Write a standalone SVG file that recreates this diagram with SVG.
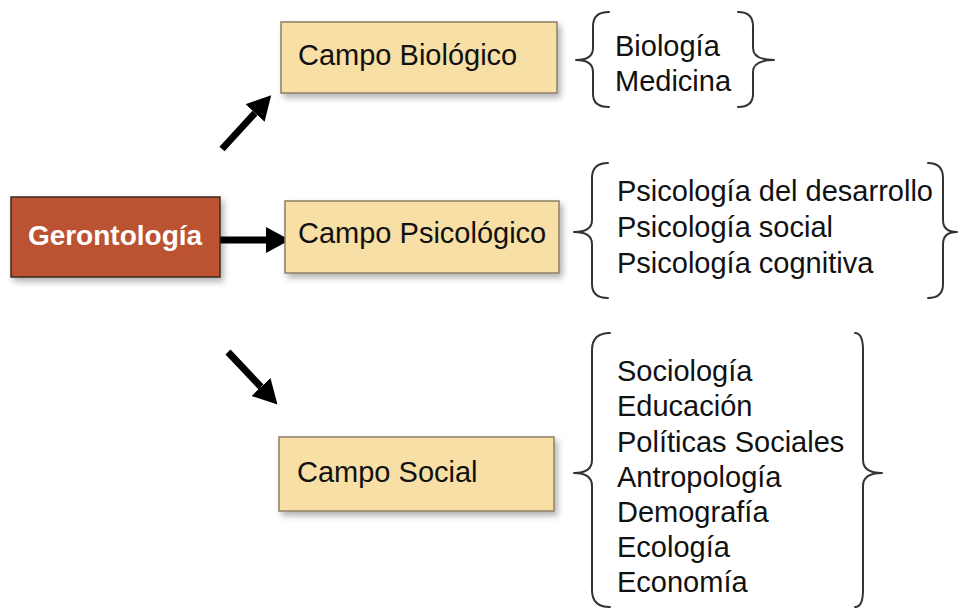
<svg xmlns="http://www.w3.org/2000/svg" width="959" height="610" viewBox="0 0 959 610">
  <defs>
    <style>
      .campo { fill: #f7dfa6; stroke: #8c7f66; stroke-width: 1.5; }
      .geron { fill: #bb5331; stroke: #3a2a22; stroke-width: 1.5; }
      .lbl { font-family: "Liberation Sans", Arial, sans-serif; font-size: 29px; fill: #111; }
      .glbl { font-family: "Liberation Sans", Arial, sans-serif; font-size: 28px; font-weight: bold; fill: #fff; }
      .brace { fill: none; stroke: #333; stroke-width: 2; stroke-linecap: round; stroke-linejoin: round; }
      .arrow { stroke: #000; stroke-width: 7; fill: none; }
    </style>
    <filter id="shadow" x="-10%" y="-20%" width="130%" height="150%">
      <feDropShadow dx="3" dy="4" stdDeviation="3" flood-color="#000" flood-opacity="0.3"/>
    </filter>
    <marker id="head" markerUnits="userSpaceOnUse" viewBox="0 -14 25 28" refX="0" refY="0" markerWidth="25" markerHeight="28" orient="auto">
      <path d="M0,-13 L24,0 L0,13 z" fill="#000"/>
    </marker>
  </defs>

  <g id="connectors">
    <line class="arrow" x1="220" y1="240" x2="266" y2="240" marker-end="url(#head)"/>
    <line class="arrow" x1="222" y1="149" x2="255" y2="113" marker-end="url(#head)"/>
    <line class="arrow" x1="228" y1="352" x2="261" y2="387" marker-end="url(#head)"/>
  </g>

  <g id="gerontologia">
    <rect class="geron" x="11" y="197" width="209" height="80" filter="url(#shadow)"/>
    <text class="glbl" x="115" y="245" text-anchor="middle">Gerontología</text>
  </g>

  <g id="campo-biologico">
    <rect class="campo" x="281" y="22" width="276" height="71" filter="url(#shadow)"/>
    <text class="lbl" x="298" y="65">Campo Biológico</text>
  </g>

  <g id="campo-psicologico">
    <rect class="campo" x="285" y="201" width="274" height="72" filter="url(#shadow)"/>
    <text class="lbl" x="298" y="243">Campo Psicológico</text>
  </g>

  <g id="campo-social">
    <rect class="campo" x="279" y="437" width="275" height="74" filter="url(#shadow)"/>
    <text class="lbl" x="297" y="482">Campo Social</text>
  </g>

  <g id="lista-biologico">
    <path class="brace" d="M609,12 Q593,12 593,26 L593,48 Q593,60 576,60 Q593,60 593,72 L593,94 Q593,107 609,107"/>
    <path class="brace" d="M738,12 Q753,12 753,26 L753,48 Q753,60 774,60 Q753,60 753,72 L753,94 Q753,107 738,107"/>
    <text class="lbl" x="615" y="56">Biología</text>
    <text class="lbl" x="615" y="91">Medicina</text>
  </g>

  <g id="lista-psicologico">
    <path class="brace" d="M608,163 Q592,163 592,178 L592,220 Q592,232 574,232 Q592,232 592,244 L592,284 Q592,298 608,298"/>
    <path class="brace" d="M928,163 Q943,163 943,178 L943,220 Q943,232 957,232 Q943,232 943,244 L943,284 Q943,298 928,298"/>
    <text class="lbl" x="617" y="201">Psicología del desarrollo</text>
    <text class="lbl" x="617" y="237">Psicología social</text>
    <text class="lbl" x="617" y="273">Psicología cognitiva</text>
  </g>

  <g id="lista-social">
    <path class="brace" d="M610,333 Q592,333 592,350 L592,460 Q592,473 574,473 Q592,473 592,486 L592,590 Q592,607 610,607"/>
    <path class="brace" d="M855,333 Q863,333 863,350 L863,460 Q863,473 882,473 Q863,473 863,486 L863,590 Q863,607 855,607"/>
    <text class="lbl" x="617" y="381">Sociología</text>
    <text class="lbl" x="617" y="416">Educación</text>
    <text class="lbl" x="617" y="452">Políticas Sociales</text>
    <text class="lbl" x="617" y="487">Antropología</text>
    <text class="lbl" x="617" y="522">Demografía</text>
    <text class="lbl" x="617" y="557">Ecología</text>
    <text class="lbl" x="617" y="592">Economía</text>
  </g>
</svg>
